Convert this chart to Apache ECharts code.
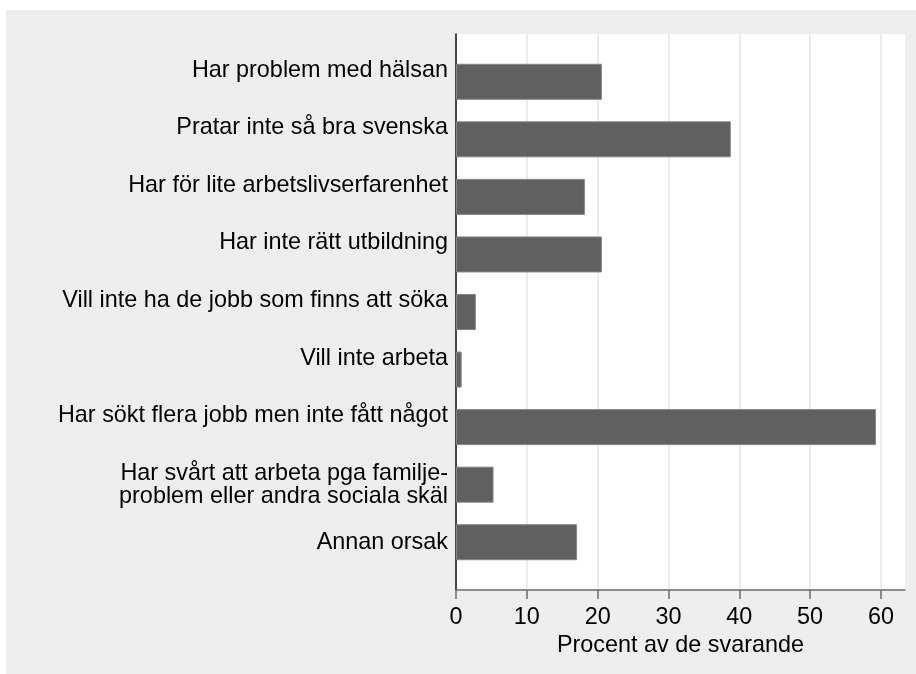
<!DOCTYPE html>
<html lang="sv">
<head>
<meta charset="utf-8">
<title>Procent av de svarande</title>
<script src="https://cdn.jsdelivr.net/npm/echarts@6/dist/echarts.min.js"></script>
<style>
  html, body { margin: 0; padding: 0; background: #fff; }
  #chart { width: 916px; height: 674px; }
</style>
</head>
<body>
<div id="chart" aria-label="Skäl till att inte ha jobb"></div>
<script>
const categories = [
  "Har problem med hälsan",
  "Pratar inte så bra svenska",
  "Har för lite arbetslivserfarenhet",
  "Har inte rätt utbildning",
  "Vill inte ha de jobb som finns att söka",
  "Vill inte arbeta",
  "Har sökt flera jobb men inte fått något",
  "Har svårt att arbeta pga familje-\nproblem eller andra sociala skäl",
  "Annan orsak",
]
const percentValues = [20.6, 38.8, 18.2, 20.6, 2.8, 0.8, 59.3, 5.3, 17.1]
const xTicks = [0, 10, 20, 30, 40, 50, 60]
const xMax = 63.4
const xTitle = "Procent av de svarande"

const font = "'Liberation Sans', Arial, Helvetica, sans-serif"
const chart = echarts.init(document.getElementById("chart"))

// in the original the single-line labels sit about half a line above their bar
const labelData = categories.map((name) => ({
  value: name,
  textStyle: { verticalAlign: name.includes("\n") || name === "Annan orsak" ? "middle" : "bottom" },
}))

chart.setOption({
  backgroundColor: "#eeeeee",
  animation: false,
  textStyle: { fontFamily: font },
  graphic: [
    { type: "rect", shape: { x: 0, y: 0, width: 916, height: 10 }, style: { fill: "#fff" } },
    { type: "rect", shape: { x: 0, y: 0, width: 6, height: 674 }, style: { fill: "#fff" } },
  ],
  grid: [
    { left: 456, right: 11, top: 34, bottom: 84, show: true, backgroundColor: "#fff", borderWidth: 0 },
    { left: 456, right: 11, top: 53, bottom: 103 },
  ],
  xAxis: [
    {
      type: "value",
      gridIndex: 0,
      min: 0,
      max: xMax,
      interval: 10,
      axisLine: { show: true, lineStyle: { color: "#6b6b6b", width: 1.5 } },
      axisTick: { show: true, length: 9, customValues: xTicks, lineStyle: { color: "#6b6b6b", width: 1.5 } },
      axisLabel: { customValues: xTicks, fontSize: 23.4, color: "#000", margin: 16, fontFamily: font },
      splitLine: { show: true, lineStyle: { color: "#e6e6e6", width: 1.5 } },
      name: xTitle,
      nameLocation: "middle",
      nameGap: 35,
      nameTextStyle: { fontSize: 23.4, color: "#000", fontFamily: font },
    },
    { type: "value", gridIndex: 1, min: 0, max: xMax, show: false },
  ],
  yAxis: [
    {
      type: "value",
      gridIndex: 0,
      min: 0,
      max: 1,
      axisLine: { show: true, lineStyle: { color: "#111", width: 1.5 } },
      axisTick: { show: false },
      axisLabel: { show: false },
      splitLine: { show: false },
    },
    {
      type: "category",
      gridIndex: 1,
      inverse: true,
      data: labelData,
      axisLine: { show: false },
      axisTick: { show: false },
      axisLabel: { fontSize: 23.4, lineHeight: 23, color: "#000", margin: 8, fontFamily: font },
    },
  ],
  series: [
    {
      type: "bar",
      xAxisIndex: 1,
      yAxisIndex: 1,
      data: percentValues,
      barWidth: 36,
      itemStyle: { color: "#606060", borderColor: "#858585", borderWidth: 1 },
    },
  ],
})
</script>
</body>
</html>
